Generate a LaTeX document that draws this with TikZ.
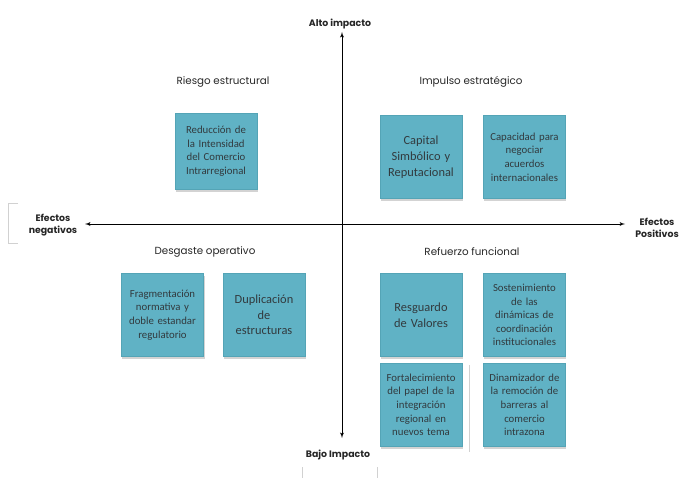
\documentclass[tikz,border=0pt]{standalone}
\usepackage{xcolor}
\usepackage{fontspec}
\setmainfont{Carlito}
\newfontfamily\titlefont{Poppins}
\usepackage{tikz}
\usetikzlibrary{shapes,arrows,shadows,positioning}
\definecolor{cardfill}{RGB}{96,178,197}
\definecolor{cardedge}{RGB}{84,164,182}
\definecolor{cardtext}{RGB}{50,58,62}
\tikzstyle{card} = [rectangle, draw=cardedge, fill=cardfill, text=cardtext, align=center,
    minimum width=2.46cm, minimum height=2.5cm, text width=2.3cm, inner sep=1pt,
    font=\fontsize{9.2}{11.6}\selectfont,
    drop shadow={shadow xshift=0.03cm, shadow yshift=-0.08cm, opacity=0.35}]
\tikzstyle{bigcard} = [card, font=\fontsize{10.6}{13.4}\selectfont]
\tikzstyle{quad} = [font=\titlefont\fontsize{8.8}{10}\selectfont, text=black!85]
\tikzstyle{axislabel} = [font=\titlefont\bfseries\fontsize{8}{10}\selectfont, align=center, text=black!85]
\tikzstyle{line} = [draw, -latex', line width=0.6pt]
\tikzstyle{faint} = [draw=black!18, line width=0.5pt]

\begin{document}
\begin{tikzpicture}[x=0.03cm,y=-0.03cm]
      \useasboundingbox (0,0) rectangle (694,478);

      % ejes
      \coordinate (centro) at (342,224);
      \coordinate (arriba) at (342,32);
      \coordinate (abajo) at (342,438);
      \coordinate (izq) at (85,224);
      \coordinate (der) at (625,224);
      \node [axislabel] (alto) at (340,24) {Alto impacto};
      \node [axislabel] (bajo) at (338,455) {Bajo Impacto};
      \node [axislabel] (neg) at (53,225) {Efectos\\negativos};
      \node [axislabel] (pos) at (657,228) {Efectos\\Positivos};
      \path [line] (centro) -- (arriba);
      \path [line] (centro) -- (abajo);
      \path [line] (centro) -- (izq);
      \path [line] (centro) -- (der);

      % cuadrantes
      \node [quad] (riesgo) at (223,82) {Riesgo estructural};
      \node [quad] (impulso) at (471,82) {Impulso estratégico};
      \node [quad] (desgaste) at (205,252) {Desgaste operativo};
      \node [quad] (refuerzo) at (472,252) {Refuerzo funcional};

      \node [card, minimum height=2.28cm] (reduccion) at (216,151) {Reducción de\\la Intensidad\\del Comercio\\Intrarregional};

      \node [bigcard] (capital) at (421,157) {Capital\\Simbólico y\\Reputacional};
      \node [card, right=0.63cm of capital] (capacidad) {Capacidad para\\negociar\\acuerdos\\internacionales};

      \node [card] (fragmenta) at (162.5,315) {Fragmentación\\normativa y\\doble estandar\\regulatorio};
      \node [bigcard, right=0.57cm of fragmenta] (duplica) {Duplicación\\de\\estructuras};

      \node [bigcard] (resguardo) at (421,315) {Resguardo\\de Valores};
      \node [card, right=0.63cm of resguardo] (sostiene) {Sostenimiento\\de las\\dinámicas de\\coordinación\\institucionales};
      \node [card, below=0.18cm of resguardo] (fortalece) {Fortalecimiento\\del papel de la\\integración\\regional en\\nuevos tema};
      \node [card, right=0.63cm of fortalece] (dinamiza) {Dinamizador de\\la remoción de\\barreras al\\comercio\\intrazona};

      % trazos tenues
      \draw [faint] (18,203) -- (8,203) -- (8,243) -- (18,243);
      \draw [faint] (469,365) -- (469,452);
      \draw [faint] (302,478) -- (302,467) (377,467) -- (377,478);

    \end{tikzpicture}
\end{document}
